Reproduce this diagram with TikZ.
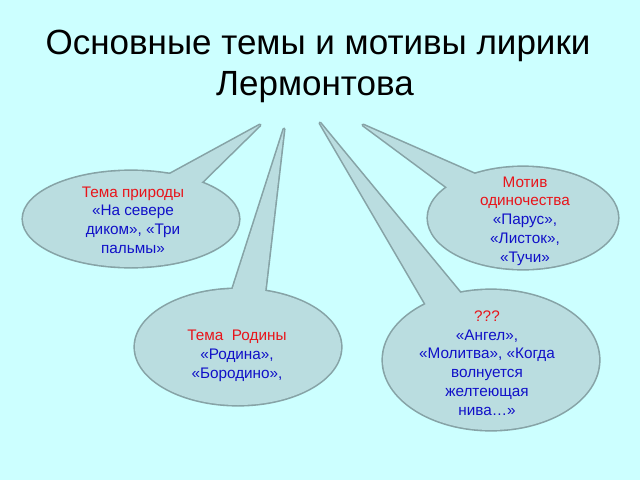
\documentclass[tikz,border=0pt]{standalone}
\usepackage{fontspec}
\setmainfont{Liberation Sans}
\usetikzlibrary{calc}
\definecolor{bg}{HTML}{CCFFFF}
\definecolor{cfill}{HTML}{BADDE0}
\definecolor{cline}{HTML}{86A3A6}
\definecolor{tred}{HTML}{E8141A}
\definecolor{tblue}{HTML}{1010C8}
\newcommand\mycallout[6]{%
  \coordinate (tp) at (#6);
  \coordinate (ba) at ($(tp)!1.12!(#4)$);
  \coordinate (bb) at ($(tp)!1.12!(#5)$);
  \path[draw=cline, line width=3.2pt, line join=round] (#1) ellipse [x radius=#2, y radius=#3];
  \path[draw=cline, line width=3.2pt, line join=round] (tp) -- (ba) -- (bb) -- cycle;
  \fill[cfill] (#1) ellipse [x radius=#2, y radius=#3];
  \fill[cfill] (tp) -- (ba) -- (bb) -- cycle;
}
\tikzset{
  bubtext/.style={align=center, inner sep=0pt, font=\fontsize{15.3}{18.7}\selectfont, text=tblue},
  titletext/.style={anchor=base, inner sep=0pt, font=\fontsize{35}{41}\selectfont, text=black}
}
\begin{document}
\begin{tikzpicture}[x=1pt,y=-1pt]
\fill[bg] (0,0) rectangle (640,480);
\useasboundingbox (0,0) rectangle (640,480);
\node[titletext] (t1) at (318,54) {Основные темы и мотивы лирики};
\node[titletext] (t2) at (315,95) {Лермонтова};
\mycallout{131,219}{108}{48}{172,173}{203,181}{260,125}
\mycallout{523,218}{95}{51}{448,188}{477,175}{363,125}
\mycallout{238,347}{103}{58}{233,288}{265,292}{284,129}
\mycallout{491,360}{108}{70}{425,303}{462,295}{320,123}
\node[bubtext] (n1) at (133,220) {\textcolor{tred}{Тема природы}\\«На севере\\диком», «Три\\пальмы»};
\node[bubtext] (n2) at (525,221) {\textcolor{tred}{Мотив}\\\textcolor{tred}{одиночества}\\«Парус»,\\«Листок»,\\«Тучи»};
\node[bubtext] (n3) at (237,356) {\textcolor{tred}{Тема\ \ Родины}\\«Родина»,\\«Бородино»,};
\node[bubtext] (n4) at (487,363) {\textcolor{tred}{???}\\«Ангел»,\\«Молитва», «Когда\\волнуется\\желтеющая\\нива…»};
\end{tikzpicture}
\end{document}
